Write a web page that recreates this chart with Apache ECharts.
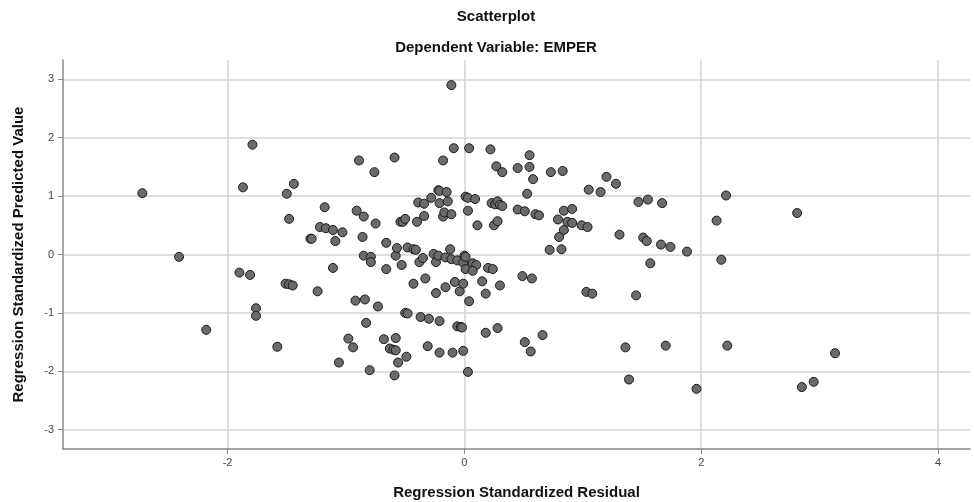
<!DOCTYPE html>
<html>
<head>
<meta charset="utf-8">
<title>Scatterplot</title>
<script src="https://cdn.jsdelivr.net/npm/echarts@6/dist/echarts.min.js"></script>
<style>
  html, body { margin: 0; padding: 0; background: #fff; }
  #chart { width: 974px; height: 502px; }
</style>
</head>
<body>
<div id="chart"></div>
<script>
// residuals (x) and predicted values (y)
const residuals = [
  -2.72, -2.41, -2.18, -1.87, -1.79, -1.90, -1.81, -1.76, -1.76, -1.58,
  -1.50, -1.44, -1.48, -1.51, -1.48, -1.45, -1.30, -1.29, -1.22, -1.17,
  -1.11, -1.18, -1.24, -1.11, -1.09, -1.06, -1.03, -0.98, -0.94, -0.92,
  -0.91, -0.89, -0.86, -0.85, -0.85, -0.84, -0.83, -0.80, -0.79, -0.79,
  -0.76, -0.75, -0.73, -0.68, -0.66, -0.66, -0.63, -0.60, -0.58, -0.59,
  -0.59, -0.58, -0.58, -0.57, -0.56, -0.54, -0.52, -0.50, -0.53, -0.50,
  -0.48, -0.49, -0.48, -0.43, -0.41, -0.43, -0.40, -0.39, -0.37, -0.38,
  -0.35, -0.34, -0.34, -0.33, -0.31, -0.30, -0.28, -0.26, -0.24, -0.24,
  -0.22, -0.21, -0.21, -0.21, -0.22, -0.21, -0.18, -0.18, -0.17, -0.16,
  -0.15, -0.14, -0.12, -0.11, -0.11, -0.10, -0.09, -0.16, -0.11, -0.06,
  -0.08, -0.06, -0.03, -0.02, -0.04, -0.01, -0.01, -0.01, 0.00,
  0.01, 0.03, 0.09, 0.03, 0.03, 0.04, 0.04, 0.01, 0.07, 0.10,
  0.01, 0.07, 0.11, 0.15, 0.18, 0.18, 0.20, 0.24, 0.22, 0.23,
  0.26, 0.28, 0.30, 0.32, 0.25, 0.28, 0.27, 0.32, 0.28, 0.30,
  0.45, 0.45, 0.49, 0.51, 0.51, 0.53, 0.55, 0.55, 0.56, 0.57,
  0.58, 0.60, 0.63, 0.66, 0.72, 0.73, 0.79, 0.80, 0.82, 0.83,
  0.84, 0.84, 0.87, 0.91, 0.91, 0.99, 1.04, 1.03, 1.08, 1.05,
  1.15, 1.20, 1.28, 1.31, 1.36, 1.39, 1.45, 1.47, 1.55, 1.67,
  1.51, 1.54, 1.66, 1.74, 1.88, 1.57, 1.70, 1.96, 2.13, 2.21,
  2.17, 2.22, 2.81, 2.85, 2.95, 3.13
];
const predicted = [
  1.05, -0.04, -1.29, 1.15, 1.88, -0.31, -0.35, -0.92, -1.05, -1.58,
  1.04, 1.21, 0.61, -0.50, -0.51, -0.53, 0.27, 0.27, 0.47, 0.45,
  0.42, 0.81, -0.63, -0.23, 0.23, -1.85, 0.38, -1.44, -1.59, -0.79,
  0.75, 1.61, 0.30, 0.65, -0.02, -0.77, -1.17, -1.98, -0.04, -0.13,
  1.41, 0.53, -0.89, -1.45, 0.20, -0.25, -1.61, -1.63, -1.64, -2.07,
  1.66, -0.02, -1.43, 0.11, -1.85, 0.56, 0.56, 0.61, -0.18, -1.00,
  -1.01, -1.75, 0.12, 0.09, 0.08, -0.50, 0.56, 0.89, -1.07, -0.13,
  -0.06, 0.87, 0.66, -0.41, -1.57, -1.10, 0.97, 0.01, -0.13, -0.66,
  1.10, 1.09, 0.88, -1.14, -0.02, -1.68, 1.61, 0.65, 0.72, -0.56,
  1.07, 0.91, 0.09, 0.69, 2.90, -1.68, 1.82, -0.05, -0.08, -0.10,
  -0.47, -1.23, -1.24, -1.25, -0.63, -1.65, -0.50, -0.14, -0.02,
  0.99, 0.97, 0.95, 0.75, -2.01, 1.82, -0.80, -0.04, -0.15, -0.18,
  -0.25, -0.28, 0.50, -0.46, -0.67, -1.34, -0.23, -0.25, 1.80, 0.88,
  0.86, 0.91, 0.85, 0.83, 0.50, 0.57, 1.51, 1.41, -1.26, -0.53,
  1.48, 0.77, -0.37, 0.74, -1.50, 1.04, 1.70, 1.50, -1.66, -0.41,
  1.29, 0.69, 0.67, -1.38, 0.08, 1.41, 0.60, 0.30, 0.09, 1.43,
  0.75, 0.42, 0.56, 0.54, 0.78, 0.50, 0.47, -0.64, -0.67, 1.11,
  1.07, 1.33, 1.21, 0.34, -1.59, -2.14, -0.70, 0.90, 0.94, 0.88,
  0.29, 0.23, 0.17, 0.13, 0.05, -0.15, -1.56, -2.30, 0.58, 1.01,
  -0.09, -1.56, 0.71, -2.27, -2.18, -1.69
];

const xTicks = [-2, 0, 2, 4];
const yTicks = [-3, -2, -1, 0, 1, 2, 3];

const points = residuals.map((x, i) => [x, predicted[i]]);

const chart = echarts.init(document.getElementById('chart'));

const gridLine = { show: true, lineStyle: { color: '#d3d3d3', width: 1.5 } };
const labelFont = { fontFamily: 'Liberation Sans', fontSize: 11, color: '#444' };
const nameFont = { fontFamily: 'Liberation Sans', fontSize: 15, fontWeight: 'bold', color: '#111' };

const option = {
  animation: false,
  title: [
    {
      text: 'Scatterplot',
      left: 491,
      textAlign: 'center',
      top: 4,
      textStyle: nameFont
    },
    {
      text: 'Dependent Variable: EMPER',
      left: 491,
      textAlign: 'center',
      top: 35,
      textStyle: nameFont
    }
  ],
  // keep the plot box fixed, names sit outside it
  grid: { left: 63, right: 4, top: 60, bottom: 53, outerBoundsMode: 'none' },
  xAxis: {
    type: 'value',
    min: -3.39,
    max: 4.27,
    name: 'Regression Standardized Residual',
    nameLocation: 'middle',
    nameGap: 36,
    nameTextStyle: nameFont,
    axisLine: { show: true, onZero: false, lineStyle: { color: '#888', width: 1.5 } },
    axisTick: { show: true, customValues: xTicks, length: 5, lineStyle: { color: '#888' } },
    axisLabel: { customValues: xTicks, margin: 8, ...labelFont },
    splitLine: gridLine
  },
  yAxis: {
    type: 'value',
    min: -3.33,
    max: 3.33,
    name: 'Regression Standardized Predicted Value',
    nameLocation: 'middle',
    nameGap: 37,
    nameTextStyle: nameFont,
    axisLine: { show: true, onZero: false, lineStyle: { color: '#888', width: 1.5 } },
    axisTick: { show: true, customValues: yTicks, length: 5, lineStyle: { color: '#888' } },
    axisLabel: { customValues: yTicks, margin: 9, ...labelFont },
    splitLine: gridLine
  },
  series: [
    {
      type: 'scatter',
      data: points,
      symbolSize: 9,
      itemStyle: { color: '#6b6b6b', borderColor: '#1a1a1a', borderWidth: 1, opacity: 1 }
    }
  ]
};

chart.setOption(option);
</script>
</body>
</html>
